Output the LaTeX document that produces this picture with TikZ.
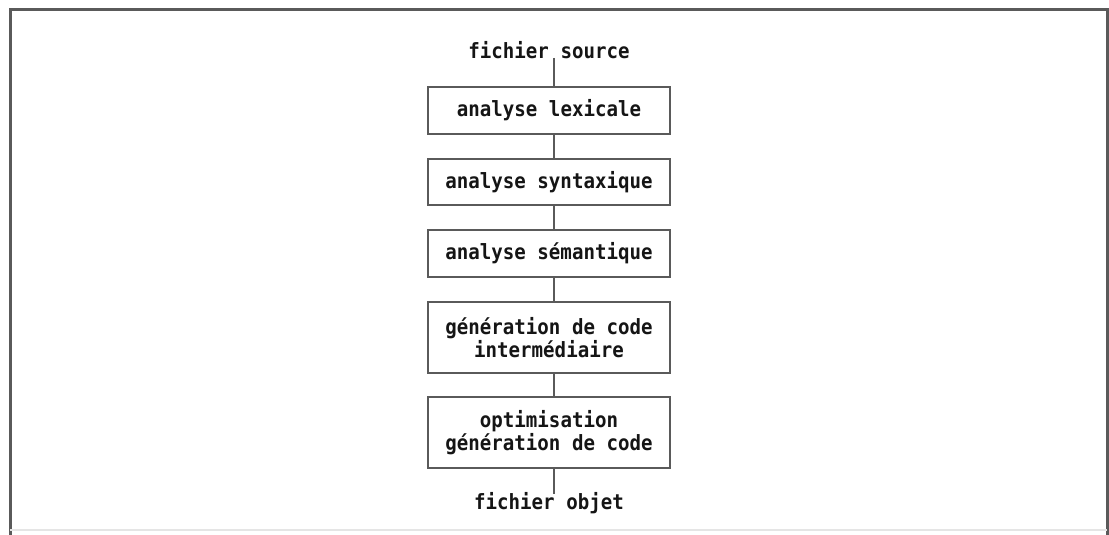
\documentclass[tikz,border=0pt]{standalone}
\usepackage{fontspec}
\newfontfamily\diagfont{DejaVu Sans Mono Bold}[FakeStretch=0.91]
\definecolor{rule}{HTML}{5A5A5A}
\definecolor{ink}{HTML}{151515}
\tikzset{
  phase/.style={draw=rule, line width=2.6pt, fill=white, minimum width=242pt,
    inner sep=0pt, align=center, text=ink,
    font=\diagfont\fontsize{21}{23}\selectfont},
  filelabel/.style={inner sep=1pt, text=ink, font=\diagfont\fontsize{21}{23}\selectfont},
  link/.style={draw=rule, line width=2.2pt},
  frame/.style={draw=rule, line width=3pt}
}
\begin{document}
\begin{tikzpicture}[x=1pt, y=-1pt]
  \useasboundingbox (0,0) rectangle (1109,535);
  % outer frame
  \draw[frame] (10,535) -- (10,10) -- (1107,10) -- (1107,535);
  \draw[black!10, line width=1.5pt] (10,530) -- (1107,530);

  % compiler phases
  \node[filelabel] (src) at (549,50) {fichier source};
  \node[phase, minimum height=47pt] (lex) at (549,110.5) {analyse lexicale};
  \node[phase, minimum height=46pt] (syn) at (549,182) {analyse syntaxique};
  \node[phase, minimum height=47pt] (sem) at (549,253.5) {analyse sémantique};
  \node[phase, minimum height=71pt] (gen) at (549,337.5) {génération de code\\intermédiaire};
  \node[phase, minimum height=71pt] (opt) at (549,432.5) {optimisation\\génération de code};
  \node[filelabel] (obj) at (549,503) {fichier objet};

  % connectors, set slightly right of the box axis
  \draw[link] ([xshift=5pt,yshift=2pt]src.south) -- ([xshift=5pt]lex.north);
  \draw[link] ([xshift=5pt]lex.south) -- ([xshift=5pt]syn.north);
  \draw[link] ([xshift=5pt]syn.south) -- ([xshift=5pt]sem.north);
  \draw[link] ([xshift=5pt]sem.south) -- ([xshift=5pt]gen.north);
  \draw[link] ([xshift=5pt]gen.south) -- ([xshift=5pt]opt.north);
  \draw[link] ([xshift=5pt]opt.south) -- ([xshift=5pt,yshift=-3pt]obj.north);
\end{tikzpicture}
\end{document}
